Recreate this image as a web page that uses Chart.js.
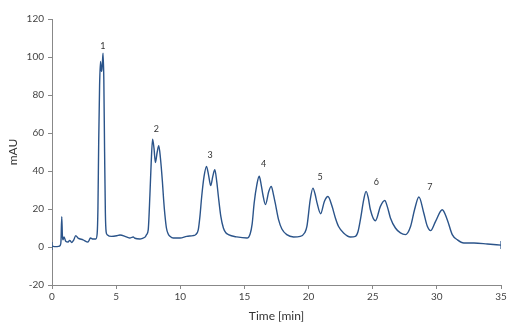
<!DOCTYPE html>
<html>
<head>
<meta charset="utf-8">
<script src="https://cdn.jsdelivr.net/npm/chart.js@4/dist/chart.umd.min.js"></script>
<style>
html,body{margin:0;padding:0;background:#fff;}
#wrap{width:523px;height:327px;position:relative;}
</style>
</head>
<body>
<div id="wrap"><canvas id="c" width="523" height="327"></canvas></div>
<script>
const timeMin = [0,0.1,0.3,0.5,0.65,0.7,0.76,0.81,0.86,0.94,1.07,1.25,1.38,1.54,1.7,1.85,2.03,2.42,2.81,3.0,3.2,3.41,3.52,3.58,3.64,3.71,3.78,3.84,3.88,3.93,3.98,4.04,4.1,4.16,4.22,4.3,4.64,5.16,5.3,5.8,6.07,6.33,6.46,6.85,7.1,7.25,7.37,7.5,7.63,7.73,7.84,7.95,8.06,8.2,8.32,8.45,8.6,8.7,8.8,8.92,9.05,9.2,9.45,9.98,10.5,11.0,11.2,11.4,11.53,11.67,11.85,12.04,12.2,12.37,12.53,12.69,12.85,12.97,13.16,13.36,13.55,13.75,14.4,15.2,15.45,15.6,15.76,15.97,16.15,16.3,16.44,16.64,16.9,17.09,17.25,17.4,17.66,17.92,18.3,18.83,19.35,19.7,19.87,20.13,20.34,20.5,20.66,20.94,21.23,21.51,21.83,22.09,22.34,22.73,23.26,23.65,23.85,24.04,24.3,24.48,24.65,24.82,25.21,25.6,25.94,26.15,26.38,26.77,27.16,27.55,27.95,28.26,28.6,28.98,29.25,29.51,29.9,30.42,30.81,31.2,31.6,32.1,32.9,33.94,35];
const mAU = [0.5,0.3,0.2,0.3,1.0,3,16,6,3.8,5.3,3,2.6,3.5,2.4,3.8,6,4.7,3.8,2.6,4.7,4.2,4.2,7,20,55,85,97.7,93,92.5,97,102,88,50,18,8,6.5,5.6,6.1,6.3,5.3,4.7,5.3,4.6,4.2,4.7,5.2,6.5,9,27,44,56.8,52,44.5,50,53.3,47,35,25,17,10,7,5.6,4.7,4.7,5.6,6,6.5,9,16,26.6,37,42.4,38,32.3,37,40.7,34,26.6,16.1,10,7.5,6.5,5.3,4.7,7,12,23.2,32.8,37.2,33,27.5,22.3,29.3,31.9,28,23.2,14.4,9.5,6.5,5.3,5.6,7.5,10.8,24.9,31,28,23.2,17.5,24,26.6,21.4,15.3,10.8,7.4,5.3,5.6,8,14.4,24.9,29.3,26,19.6,13.8,21.4,24.5,21,15.3,10,7.4,6.5,10.8,19.6,26.3,17.9,11,8.6,13.5,19.6,14.4,6.5,3.8,2.1,2.1,1.6,1.0];
const yTicks = [-20,0,20,40,60,80,100,120];
const xTicks = [0,5,10,15,20,25,30,35];
const peakNames = ['1','2','3','4','5','6','7'];
const peakTime = [3.96,8.13,12.32,16.5,20.9,25.29,29.45];
const peakLevel = [106,62,48.2,43.7,36.6,34.4,31.4];

const points = timeMin.map((t,i)=>({x:t,y:mAU[i]}));
const lastIdx = points.length-1;
const FONT = "Lato, 'Open Sans', sans-serif";

const peakLabelPlugin = {
  id:'peakLabels',
  afterDatasetsDraw(chart){
    const {ctx, scales:{x,y}} = chart;
    ctx.save();
    ctx.font = "9px " + FONT;
    ctx.fillStyle = '#333';
    ctx.textAlign = 'center';
    ctx.textBaseline = 'middle';
    peakNames.forEach((n,i)=>{
      ctx.fillText(n, x.getPixelForValue(peakTime[i]), y.getPixelForValue(peakLevel[i]));
    });
    ctx.restore();
  }
};

new Chart(document.getElementById('c'), {
  type:'line',
  data:{datasets:[{
    data:points,
    borderColor:'#2b548a',
    borderWidth:1.4,
    cubicInterpolationMode:'monotone',
    pointStyle:'line',
    rotation:90,
    pointRadius:(c)=> (c.dataIndex===lastIdx||c.dataIndex===0) ? 4 : 0,
    pointBorderColor:'#2b548a',
    pointBorderWidth:1.2,
    fill:false
  }]},
  options:{
    responsive:false,
    animation:false,
    devicePixelRatio:1,
    layout:{padding:{left:0,right:22,top:19,bottom:4}},
    plugins:{legend:{display:false},tooltip:{enabled:false}},
    scales:{
      x:{
        type:'linear', min:0, max:35,
        afterBuildTicks:(s)=>{s.ticks = xTicks.map(v=>({value:v}));},
        ticks:{color:'#444', font:{family:FONT,size:10}, padding:2, maxRotation:0, autoSkip:false},
        grid:{drawOnChartArea:false, drawTicks:true, tickLength:4, color:'#888'},
        border:{color:'#888', width:1},
        title:{display:true, text:'Time [min]', color:'#333', font:{family:FONT,size:12}, padding:{top:0,bottom:0}},
        afterFit:(s)=>{s.height = 38;}
      },
      y:{
        type:'linear', min:-20, max:120,
        afterBuildTicks:(s)=>{s.ticks = yTicks.map(v=>({value:v}));},
        ticks:{color:'#444', font:{family:FONT,size:10}, padding:4, autoSkip:false},
        grid:{drawOnChartArea:false, drawTicks:true, tickLength:4, color:'#888'},
        border:{color:'#888', width:1},
        title:{display:true, text:'mAU', color:'#333', font:{family:FONT,size:12}, padding:{top:6,bottom:0}},
        afterFit:(s)=>{s.width = 52;}
      }
    }
  },
  plugins:[peakLabelPlugin]
});
</script>
</body>
</html>
